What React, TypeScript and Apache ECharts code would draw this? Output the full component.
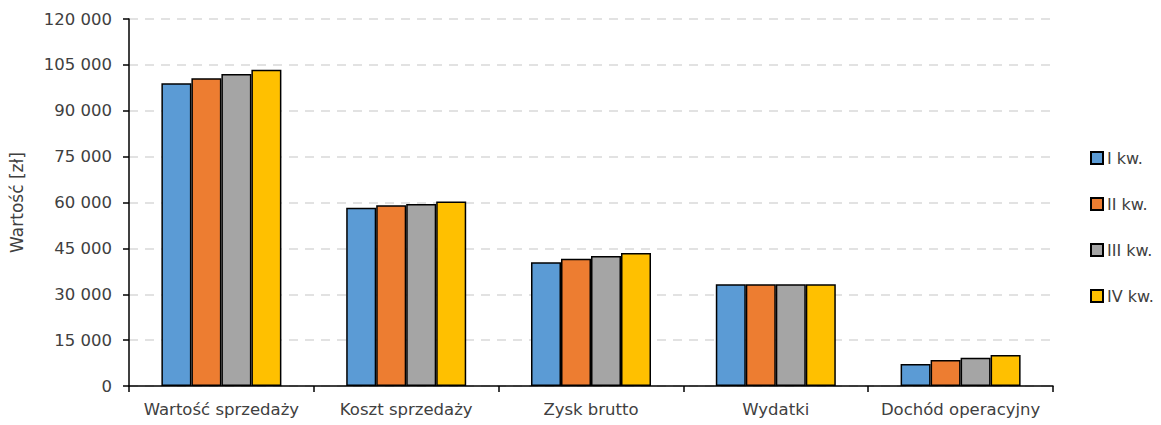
import React, { useEffect, useRef } from "react";
import * as echarts from "echarts";

const categories = ["Wartość sprzedaży", "Koszt sprzedaży", "Zysk brutto", "Wydatki", "Dochód operacyjny"];
const seriesNames = ["I kw.", "II kw.", "III kw.", "IV kw."];
const q1 = [99000, 58300, 40500, 33300, 7200];
const q2 = [100600, 59100, 41600, 33300, 8500];
const q3 = [102000, 59500, 42500, 33300, 9200];
const q4 = [103400, 60300, 43500, 33300, 10100];
const colors = ["#5b9bd5", "#ed7d31", "#a5a5a5", "#ffc000"];

const FONT = "DejaVu Sans";
const TEXT = "#404040";

function fmt(v: number): string {
  const s = String(Math.round(v));
  return s.replace(/\B(?=(\d{3})+(?!\d))/g, " ");
}

export default function App() {
  const ref = useRef<HTMLDivElement>(null);
  useEffect(() => {
    if (!ref.current) return;
    const chart = echarts.init(ref.current, undefined, { renderer: "svg" });
    const data = [q1, q2, q3, q4];
    chart.setOption({
      animation: false,
      backgroundColor: "#ffffff",
      textStyle: { fontFamily: FONT },
      grid: { left: 127, right: 108, top: 19, bottom: 39, containLabel: false },
      legend: {
        orient: "vertical",
        left: 1085,
        top: 145,
        itemWidth: 12,
        itemHeight: 12,
        itemGap: 30,
        icon: "rect",
        textStyle: { fontFamily: FONT, fontSize: 16, color: TEXT, padding: [0, 0, 0, -1] },
        data: seriesNames,
      },
      xAxis: {
        type: "category",
        data: categories,
        axisLine: { show: true, lineStyle: { color: "#000000", width: 1.5 } },
        axisTick: { show: true, length: 6, lineStyle: { color: "#000000", width: 1.5 } },
        axisLabel: { interval: 0, fontFamily: FONT, fontSize: 16.5, color: TEXT, margin: 15 },
      },
      yAxis: {
        type: "value",
        min: 0,
        max: 120000,
        interval: 15000,
        name: "Wartość [zł]",
        nameLocation: "middle",
        nameRotate: 90,
        nameGap: 104,
        nameTextStyle: { fontFamily: FONT, fontSize: 17, color: TEXT },
        axisLine: { show: true, lineStyle: { color: "#000000", width: 1.5 } },
        axisTick: { show: true, length: 6, lineStyle: { color: "#000000", width: 1.5 } },
        axisLabel: { fontFamily: FONT, fontSize: 16.5, color: TEXT, margin: 17, formatter: (v: number) => fmt(v) },
        splitLine: { show: true, lineStyle: { color: "#d9d9d9", width: 1.5, type: [9, 7] } },
      },
      series: seriesNames.map((name, i) => ({
        name,
        type: "bar",
        data: data[i],
        barWidth: 30,
        barGap: "0%",
        itemStyle: { color: colors[i], borderColor: "#000000", borderWidth: 1.5 },
      })),
    });
    return () => chart.dispose();
  }, []);
  return <div ref={ref} style={{ position: "absolute", left: 0, top: 0, width: 1161, height: 425 }} />;
}
